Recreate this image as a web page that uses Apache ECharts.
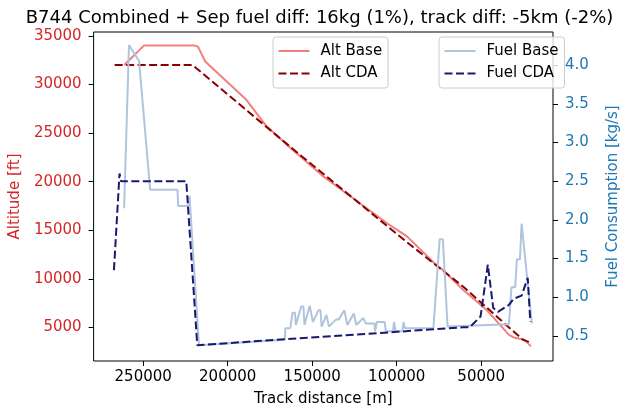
<!DOCTYPE html>
<html>
<head>
<meta charset="utf-8">
<script src="https://cdn.jsdelivr.net/npm/echarts@6/dist/echarts.min.js"></script>
<style>
  html, body { margin: 0; padding: 0; background: #fff; }
  #chart { width: 629px; height: 412px; }
</style>
</head>
<body>
<div id="chart"></div>
<script>
// track distance [m] / altitude [ft]
const altBaseDist = [261200, 249600, 219300, 217600, 213300, 189100, 177000, 163000, 144400, 127700, 105300, 94100, 75700, 72900, 60600, 46600, 33600, 30800, 24300, 20600];
const altBaseFt = [32000, 34000, 34000, 33900, 32360, 28450, 25700, 23500, 20680, 18530, 15670, 14400, 11270, 10960, 8850, 6770, 4240, 3980, 3730, 3060];

const altCdaDist = [266900, 220800, 161200, 94100, 60600, 25300, 21500];
const altCdaFt = [32000, 32000, 23330, 13800, 9190, 3730, 3500];

// fuel consumption [kg/s]
const fuelBaseDist = [261300, 258400, 252400, 245900, 229700, 229300, 223600, 222600, 217000,
  166200, 165900, 163000, 161600, 160200, 159700, 156500, 155200, 154600, 151500, 150400,
  149600, 146300, 145100, 144400, 141600, 140700, 140100, 136000, 134400, 131000, 129900,
  129200, 125400, 124300, 123900, 119800, 118700, 118300, 113100, 112850, 111800, 107200,
  106400, 102200, 101600, 100700, 96600, 96000, 95100, 78300, 74600, 72700, 69900,
  33600, 32100, 29900, 28900, 27100, 26100, 22800, 21900, 20000];
const fuelBaseKgs = [2.15, 4.26, 4.05, 2.39, 2.39, 2.18, 2.18, 2.31, 0.38,
  0.45, 0.60, 0.60, 0.80, 0.80, 0.64, 0.88, 0.88, 0.64, 0.89, 0.89,
  0.68, 0.83, 0.83, 0.62, 0.77, 0.77, 0.62, 0.71, 0.71, 0.83, 0.83,
  0.64, 0.79, 0.79, 0.64, 0.73, 0.73, 0.66, 0.66, 0.56, 0.68, 0.68,
  0.56, 0.56, 0.68, 0.56, 0.56, 0.68, 0.60, 0.60, 1.75, 1.75, 0.62,
  0.65, 1.13, 1.13, 1.49, 1.49, 1.95, 1.24, 1.24, 0.66];

const fuelCdaDist = [267300, 264000, 263100, 224500, 218000, 60600, 56900, 50400, 46100, 42900, 40100, 33600, 30800, 26100, 22500, 20950];
const fuelCdaKgs = [1.35, 2.60, 2.50, 2.50, 0.38, 0.61, 0.61, 0.75, 1.42, 0.86, 0.81, 0.90, 0.98, 1.02, 1.25, 0.68];

const xTicks = [50000, 100000, 150000, 200000, 250000];
const altTicks = [5000, 10000, 15000, 20000, 25000, 30000, 35000];
const fuelTicks = [0.5, 1.0, 1.5, 2.0, 2.5, 3.0, 3.5, 4.0];

const FONT = 'DejaVu Sans';
const RED = '#d62728';
const BLUE = '#1f77b4';

function pairs(xs, ys) {
  return xs.map(function (x, i) { return [x, ys[i]]; });
}

function lineSeries(name, xs, ys, color, yIdx, dashed) {
  return {
    name: name,
    type: 'line',
    yAxisIndex: yIdx,
    symbol: 'none',
    animation: false,
    lineStyle: { color: color, width: 2, type: dashed ? [8, 3.5] : 'solid' },
    itemStyle: { color: color },
    data: pairs(xs, ys)
  };
}

function legendBox(left, names) {
  return {
    left: left,
    top: 37,
    orient: 'vertical',
    itemWidth: 31,
    itemHeight: 14,
    itemGap: 7.5,
    padding: [6.5, 6, 7, 4.5],
    backgroundColor: 'rgba(255,255,255,0.8)',
    borderColor: '#cccccc',
    borderWidth: 1,
    borderRadius: 3,
    itemStyle: { opacity: 0 },   // hide the symbol dot, keep the line sample
    textStyle: { fontFamily: FONT, fontSize: 15, color: '#000', padding: [0, 0, 0, 6] },
    data: names
  };
}

const chart = echarts.init(document.getElementById('chart'), null, { renderer: 'canvas' });

chart.setOption({
  animation: false,
  title: {
    text: 'B744 Combined + Sep fuel diff: 16kg (1%), track diff: -5km (-2%)',
    left: 314.5,
    textAlign: 'center',
    top: 4,
    textStyle: { fontFamily: FONT, fontSize: 18, fontWeight: 'normal', color: '#000' }
  },
  legend: [
    legendBox(273, ['Alt Base', 'Alt CDA']),
    legendBox(439, ['Fuel Base', 'Fuel CDA'])
  ],
  grid: {
    left: 88.5, right: 54, top: 32, bottom: 49,
    show: true, borderColor: '#000', borderWidth: 1, backgroundColor: 'transparent'
  },
  xAxis: {
    type: 'value',
    inverse: true,
    min: 7540,
    max: 279330,
    name: 'Track distance [m]',
    nameLocation: 'middle',
    nameGap: 31,
    nameTextStyle: { fontFamily: FONT, fontSize: 15, color: '#000' },
    axisLine: { show: false },
    splitLine: { show: false },
    axisTick: { show: true, length: 5, customValues: xTicks, lineStyle: { color: '#000' } },
    axisLabel: { fontFamily: FONT, fontSize: 15, color: '#000', margin: 9, customValues: xTicks,
      formatter: function (v) { return String(v); } }
  },
  yAxis: [
    {
      type: 'value',
      position: 'left',
      min: 1554,
      max: 35400,
      name: 'Altitude [ft]',
      nameLocation: 'middle',
      nameGap: 67,
      nameTextStyle: { fontFamily: FONT, fontSize: 15, color: RED },
      axisLine: { show: false },
      splitLine: { show: false },
      axisTick: { show: true, length: 5, customValues: altTicks, lineStyle: { color: '#000' } },
      axisLabel: { fontFamily: FONT, fontSize: 15, color: RED, margin: 12, customValues: altTicks,
        formatter: function (v) { return String(v); } }
    },
    {
      type: 'value',
      position: 'right',
      min: 0.175,
      max: 4.429,
      name: 'Fuel Consumption [kg/s]',
      nameLocation: 'middle',
      nameGap: 53,
      nameTextStyle: { fontFamily: FONT, fontSize: 15, color: BLUE },
      axisLine: { show: false },
      splitLine: { show: false },
      axisTick: { show: true, length: 5, customValues: fuelTicks, lineStyle: { color: '#000' } },
      axisLabel: { fontFamily: FONT, fontSize: 15, color: BLUE, margin: 12, customValues: fuelTicks,
        formatter: function (v) { return v.toFixed(1); } }
    }
  ],
  series: [
    lineSeries('Alt Base', altBaseDist, altBaseFt, '#f08080', 0, false),
    lineSeries('Alt CDA', altCdaDist, altCdaFt, '#8b0000', 0, true),
    lineSeries('Fuel Base', fuelBaseDist, fuelBaseKgs, '#b0c4de', 1, false),
    lineSeries('Fuel CDA', fuelCdaDist, fuelCdaKgs, '#191970', 1, true)
  ]
});
</script>
</body>
</html>
